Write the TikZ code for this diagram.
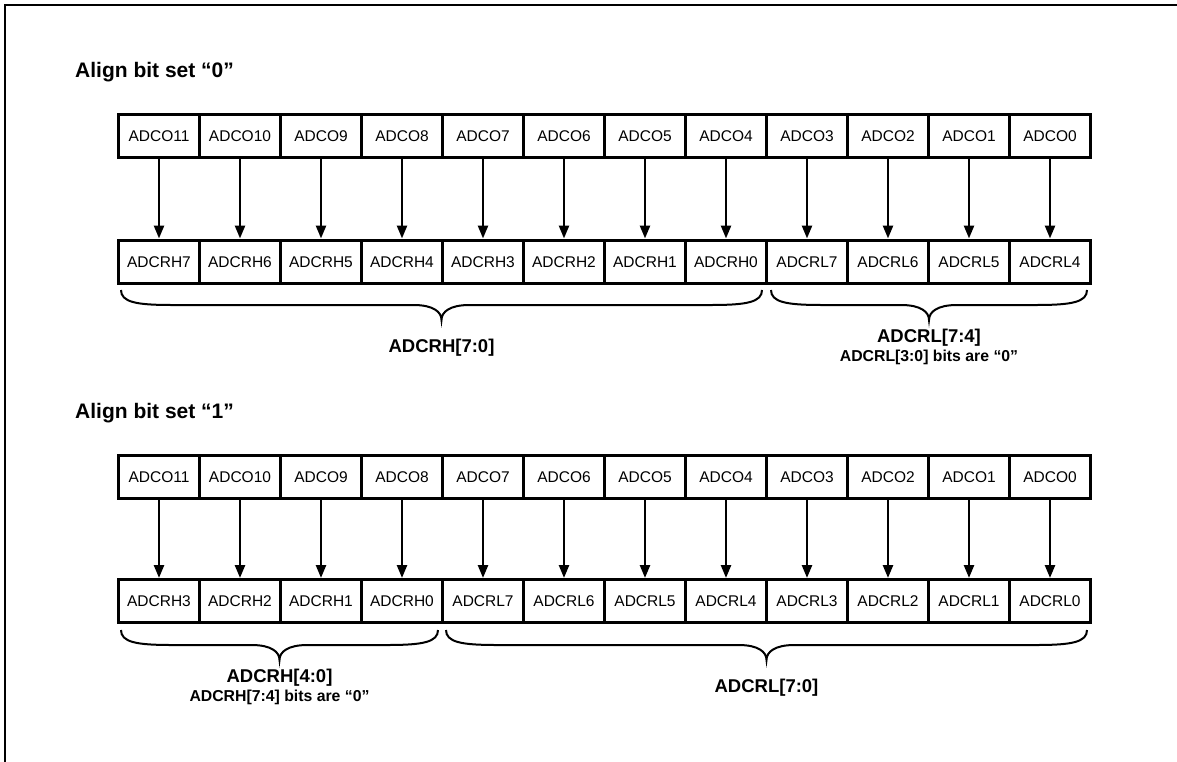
\documentclass[tikz,border=0pt]{standalone}
\usepackage{fontspec}
\setmainfont{Liberation Sans}
\usetikzlibrary{arrows.meta}
\tikzset{
  cell/.style={draw, line width=3pt, minimum width=81pt, minimum height=43pt, inner sep=0pt,
    text height=11pt, text depth=0pt, font=\fontsize{15.5}{18}\selectfont},
  arr/.style={line width=2.5pt, -{Triangle[length=13pt,width=10pt]}},
  brc/.style={line width=2pt},
  title/.style={anchor=base west, inner sep=0pt, font=\fontsize{21}{25}\selectfont\bfseries},
  lab/.style={anchor=base, inner sep=0pt, font=\fontsize{18.5}{22}\selectfont\bfseries},
  sub/.style={anchor=base, inner sep=0pt, font=\fontsize{15.8}{19}\selectfont\bfseries},
}
\newcommand\mybrc[3]{%
  \pgfmathsetmacro\mm{(#1+#2)/2}%
  \draw[brc] (#1,#3) .. controls (#1,#3+12) and (#1+15,#3+15) .. (#1+50,#3+15)
    -- (\mm-28,#3+15) .. controls (\mm-8,#3+15) and (\mm,#3+22) .. (\mm,#3+30)
    .. controls (\mm,#3+22) and (\mm+8,#3+15) .. (\mm+28,#3+15)
    -- (#2-50,#3+15) .. controls (#2-15,#3+15) and (#2,#3+12) .. (#2,#3);}
\begin{document}
\begin{tikzpicture}[x=1pt,y=-1pt]
\useasboundingbox (0,0) rectangle (1177,762);
\draw[line width=2pt] (5,770) -- (5,5) -- (1185,5);

% Section 1
\node[title] (t1) at (75,78) {Align bit set “0”};
\foreach \i in {0,...,11} {
  \pgfmathtruncatemacro\b{11-\i}
  \node[cell] (ta\i) at ({159+81*\i},136.5) {ADCO\b};
}
\foreach \lab [count=\i from 0] in {ADCRH7,ADCRH6,ADCRH5,ADCRH4,ADCRH3,ADCRH2,ADCRH1,ADCRH0,ADCRL7,ADCRL6,ADCRL5,ADCRL4} {
  \node[cell] (ba\i) at ({159+81*\i},261.5) {\lab};
}
\foreach \i in {0,...,11} { \draw[arr] (ta\i) -- (ba\i); }
\mybrc{121}{762}{290}
\mybrc{771}{1087}{290}
\node[lab] (l1) at (441.5,352.7) {ADCRH[7:0]};
\node[lab] (l2) at (929,342.7) {ADCRL[7:4]};
\node[sub] (l3) at (929,361.7) {ADCRL[3:0] bits are “0”};

% Section 2
\node[title] (t2) at (75,418.3) {Align bit set “1”};
\foreach \i in {0,...,11} {
  \pgfmathtruncatemacro\b{11-\i}
  \node[cell] (tb\i) at ({159+81*\i},476.5) {ADCO\b};
}
\foreach \lab [count=\i from 0] in {ADCRH3,ADCRH2,ADCRH1,ADCRH0,ADCRL7,ADCRL6,ADCRL5,ADCRL4,ADCRL3,ADCRL2,ADCRL1,ADCRL0} {
  \node[cell] (bb\i) at ({159+81*\i},601) {\lab};
}
\foreach \i in {0,...,11} { \draw[arr] (tb\i) -- (bb\i); }
\mybrc{121}{438}{630}
\mybrc{446}{1087}{630}
\node[lab] (l4) at (279.5,682.7) {ADCRH[4:0]};
\node[sub] (l5) at (279.5,701.7) {ADCRH[7:4] bits are “0”};
\node[lab] (l6) at (766.5,692.7) {ADCRL[7:0]};
\end{tikzpicture}
\end{document}
